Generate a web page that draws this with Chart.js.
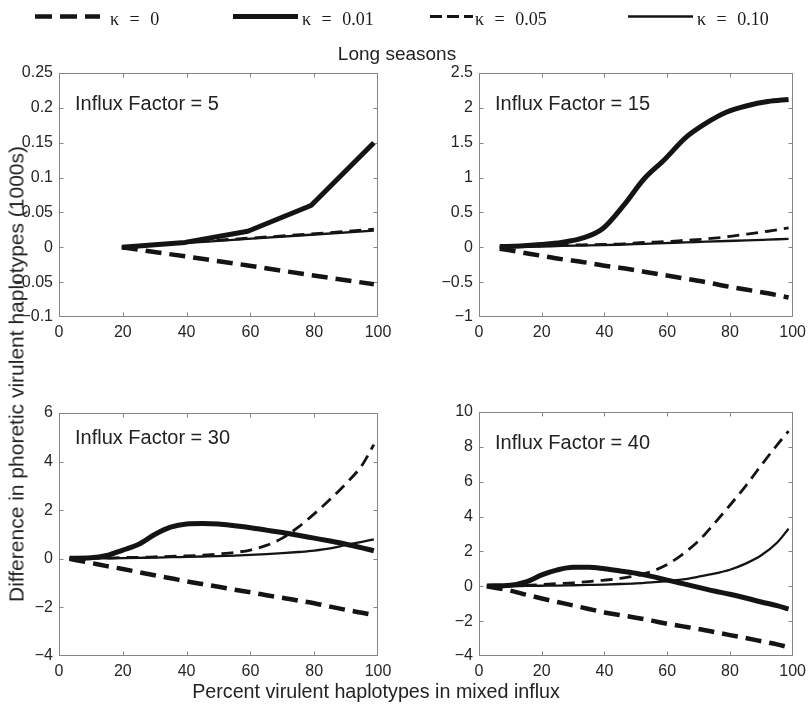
<!DOCTYPE html>
<html>
<head>
<meta charset="utf-8">
<title>Long seasons</title>
<script src="https://cdn.jsdelivr.net/npm/chart.js@4.4.1/dist/chart.umd.min.js"></script>
<style>
  html, body { margin: 0; padding: 0; background: #fff; }
  #wrap { position: relative; width: 812px; height: 707px; overflow: hidden;
          font-family: "Liberation Sans", Arial, Helvetica, sans-serif; color: #222; }
  #wrap canvas { position: absolute; left: 0; top: 0; }
  #keys { position: absolute; left: 0; top: 0; }
  .leg { position: absolute; top: 10px; white-space: nowrap; color: #1a1a1a;
         font: 18px/18px "Liberation Serif", "Times New Roman", serif; word-spacing: 6px; }
  #title { position: absolute; left: 397px; top: 44px; transform: translateX(-50%);
           white-space: nowrap; font-size: 19px; line-height: 19px; }
  #xlab { position: absolute; left: 376px; top: 681px; transform: translateX(-50%);
          white-space: nowrap; font-size: 19.7px; line-height: 20px; }
  #ylab { position: absolute; left: 16px; top: 374px; transform: translate(-50%, -50%) rotate(-90deg);
          white-space: nowrap; font-size: 21px; line-height: 21px; }
</style>
</head>
<body>
<div id="wrap">
  <canvas id="p1" width="812" height="707"></canvas>
  <canvas id="p2" width="812" height="707"></canvas>
  <canvas id="p3" width="812" height="707"></canvas>
  <canvas id="p4" width="812" height="707"></canvas>
  <svg id="keys" width="812" height="40"></svg>
  <div id="title">Long seasons</div>
  <div id="ylab">Difference in phoretic virulent haplotypes (1000s)</div>
  <div id="xlab">Percent virulent haplotypes in mixed influx</div>
</div>
<script>
// ---- series names and axis ticks ----
const kappaLabels = ['κ = 0', 'κ = 0.01', 'κ = 0.05', 'κ = 0.10'];
const panelLabels = ['Influx Factor = 5', 'Influx Factor = 15', 'Influx Factor = 30', 'Influx Factor = 40'];
const xTicks = [0, 20, 40, 60, 80, 100];
const yTicks5 = [-0.1, -0.05, 0, 0.05, 0.1, 0.15, 0.2, 0.25];
const yTicks15 = [-1, -0.5, 0, 0.5, 1, 1.5, 2, 2.5];
const yTicks30 = [-4, -2, 0, 2, 4, 6];
const yTicks40 = [-4, -2, 0, 2, 4, 6, 8, 10];

// ---- Influx Factor = 5 ----
const x5 = [19.7, 39.5, 59.2, 79, 98.7];
const if5_k0   = [0, -0.013, -0.026, -0.04, -0.053];
const if5_k001 = [0, 0.007, 0.023, 0.06, 0.15];
const if5_k005 = [0, 0.007, 0.013, 0.019, 0.026];
const if5_k010 = [0, 0.006, 0.012, 0.018, 0.024];

// ---- Influx Factor = 15 ----
const x15 = [6.6, 13.2, 19.7, 26.3, 32.9, 39.5, 46.1, 52.6, 59.2, 65.8, 72.4, 79, 85.5, 92.1, 98.7];
const if15_k0   = [-0.02, -0.07, -0.12, -0.17, -0.21, -0.26, -0.30, -0.35, -0.40, -0.45, -0.50, -0.56, -0.61, -0.66, -0.72];
const if15_k001 = [0.01, 0.02, 0.04, 0.07, 0.13, 0.27, 0.60, 0.98, 1.26, 1.57, 1.78, 1.94, 2.03, 2.09, 2.12];
const if15_k005 = [0, 0.01, 0.02, 0.03, 0.035, 0.04, 0.05, 0.07, 0.08, 0.10, 0.12, 0.15, 0.19, 0.23, 0.28];
const if15_k010 = [0, 0.005, 0.01, 0.02, 0.025, 0.03, 0.04, 0.05, 0.06, 0.07, 0.08, 0.09, 0.10, 0.11, 0.12];

// ---- Influx Factor = 30 ----
const x30 = [3.3, 10, 15, 20, 25, 30, 35, 40, 45, 50, 55, 60, 65, 70, 75, 80, 85, 90, 95, 98.7];
const if30_k0   = [0, -0.17, -0.3, -0.42, -0.55, -0.68, -0.8, -0.93, -1.04, -1.15, -1.27, -1.38, -1.5, -1.6, -1.72, -1.83, -1.97, -2.1, -2.22, -2.32];
const if30_k001 = [0.02, 0.04, 0.14, 0.36, 0.6, 1.0, 1.3, 1.43, 1.45, 1.43, 1.36, 1.28, 1.18, 1.08, 0.97, 0.85, 0.73, 0.6, 0.45, 0.33];
const if30_k005 = [0, 0.02, 0.03, 0.05, 0.06, 0.08, 0.1, 0.12, 0.15, 0.2, 0.26, 0.36, 0.55, 0.85, 1.3, 1.85, 2.45, 3.1, 3.85, 4.7];
const if30_k010 = [0, 0.01, 0.02, 0.03, 0.04, 0.05, 0.065, 0.08, 0.095, 0.11, 0.13, 0.16, 0.19, 0.23, 0.28, 0.34, 0.43, 0.57, 0.7, 0.8];

// ---- Influx Factor = 40 ----
const x40 = [2.5, 10, 15, 20, 25, 30, 35, 40, 45, 50, 55, 60, 65, 70, 75, 80, 85, 90, 95, 98.7];
const if40_k0   = [0, -0.25, -0.48, -0.7, -0.9, -1.1, -1.3, -1.5, -1.65, -1.8, -1.97, -2.15, -2.3, -2.45, -2.62, -2.8, -2.97, -3.15, -3.33, -3.5];
const if40_k001 = [0.02, 0.06, 0.25, 0.65, 0.94, 1.09, 1.09, 1.0, 0.88, 0.75, 0.57, 0.35, 0.15, -0.06, -0.27, -0.46, -0.67, -0.9, -1.11, -1.3];
const if40_k005 = [0, 0.02, 0.05, 0.1, 0.15, 0.2, 0.27, 0.35, 0.45, 0.6, 0.85, 1.25, 1.85, 2.6, 3.6, 4.65, 5.75, 6.95, 8.1, 8.9];
const if40_k010 = [0, 0.01, 0.02, 0.03, 0.04, 0.06, 0.08, 0.1, 0.13, 0.17, 0.23, 0.3, 0.4, 0.55, 0.72, 0.95, 1.3, 1.78, 2.5, 3.3];

// ---- drawing ----
Chart.defaults.font.family = '"Liberation Sans", Arial, Helvetica, sans-serif';
Chart.defaults.font.size = 16;
Chart.defaults.color = '#262626';

const INK = '#141414';
const FRAME = '#858585';
const lineStyles = [
  { borderWidth: 4.5, borderDash: [16, 8] },   // κ = 0
  { borderWidth: 5,   borderDash: [] },        // κ = 0.01
  { borderWidth: 2.8, borderDash: [12, 7] },   // κ = 0.05
  { borderWidth: 2.3, borderDash: [] }         // κ = 0.10
];

const fmt = v => String(v).replace('-', '\u2212');

// boxed axes with inward ticks on all four sides, plus the panel caption
const panelFrame = {
  id: 'panelFrame',
  beforeDatasetsDraw(chart) {
    const { ctx, chartArea: a, scales } = chart;
    const L = Math.round(a.left) + 0.5, R = Math.round(a.right) - 0.5;
    const T = Math.round(a.top) + 0.5, B = Math.round(a.bottom) - 0.5;
    ctx.save();
    ctx.strokeStyle = FRAME;
    ctx.lineWidth = 1;
    ctx.strokeRect(L, T, R - L, B - T);
    ctx.beginPath();
    scales.x.ticks.forEach(t => {
      const p = Math.round(scales.x.getPixelForValue(t.value)) + 0.5;
      if (p <= L + 1 || p >= R - 1) return;
      ctx.moveTo(p, B); ctx.lineTo(p, B - 4);
      ctx.moveTo(p, T); ctx.lineTo(p, T + 4);
    });
    scales.y.ticks.forEach(t => {
      const p = Math.round(scales.y.getPixelForValue(t.value)) + 0.5;
      if (p <= T + 1 || p >= B - 1) return;
      ctx.moveTo(L, p); ctx.lineTo(L + 4, p);
      ctx.moveTo(R, p); ctx.lineTo(R - 4, p);
    });
    ctx.stroke();
    ctx.restore();
  },
  afterDraw(chart, args, opts) {
    const { ctx, chartArea: a } = chart;
    ctx.save();
    ctx.font = '20px "Liberation Sans", Arial, sans-serif';
    ctx.fillStyle = '#222';
    ctx.textBaseline = 'alphabetic';
    ctx.textAlign = 'left';
    ctx.fillText(opts.label, a.left + 16, a.top + opts.labelDy);
    ctx.restore();
  }
};

function panel(id, area, xs, series, yTicks, label, labelDy, smooth) {
  const W = 812, H = 707, yAxisW = 50, xAxisH = 30;
  const datasets = series.map((vals, i) => ({
    label: kappaLabels[i],
    data: xs.map((x, j) => ({ x: x, y: vals[j] })),
    borderColor: INK,
    backgroundColor: INK,
    borderWidth: lineStyles[i].borderWidth,
    borderDash: lineStyles[i].borderDash,
    borderJoinStyle: 'round',
    pointRadius: 0,
    fill: false,
    tension: smooth ? 0.4 : 0,
    cubicInterpolationMode: smooth ? 'monotone' : 'default'
  }));
  return new Chart(document.getElementById(id), {
    type: 'line',
    data: { datasets },
    options: {
      responsive: false,
      animation: false,
      devicePixelRatio: 1,
      events: [],
      layout: { padding: { left: area.left - yAxisW, right: W - area.right, top: area.top, bottom: H - area.bottom - xAxisH } },
      plugins: { legend: { display: false }, tooltip: { enabled: false }, panelFrame: { label, labelDy } },
      scales: {
        x: {
          type: 'linear', min: 0, max: 100,
          afterBuildTicks: s => { s.ticks = xTicks.map(v => ({ value: v })); },
          afterFit: s => { s.height = xAxisH; },
          grid: { display: false, drawTicks: false },
          border: { display: false },
          ticks: { padding: 6, maxRotation: 0, autoSkip: false, callback: v => fmt(v) }
        },
        y: {
          type: 'linear', min: yTicks[0], max: yTicks[yTicks.length - 1],
          afterBuildTicks: s => { s.ticks = yTicks.map(v => ({ value: v })); },
          afterFit: s => { s.width = yAxisW; },
          grid: { display: false, drawTicks: false },
          border: { display: false },
          ticks: { padding: 6, autoSkip: false, callback: v => fmt(v) }
        }
      }
    },
    plugins: [panelFrame]
  });
}

panel('p1', { left: 59, top: 73, right: 378, bottom: 317 }, x5,
      [if5_k0, if5_k001, if5_k005, if5_k010], yTicks5, panelLabels[0], 37, false);
panel('p2', { left: 479, top: 73, right: 799, bottom: 317 }, x15,
      [if15_k0, if15_k001, if15_k005, if15_k010], yTicks15, panelLabels[1], 37, true);
panel('p3', { left: 59, top: 413, right: 378, bottom: 656 }, x30,
      [if30_k0, if30_k001, if30_k005, if30_k010], yTicks30, panelLabels[2], 31, true);
panel('p4', { left: 479, top: 412, right: 798, bottom: 656 }, x40,
      [if40_k0, if40_k001, if40_k005, if40_k010], yTicks40, panelLabels[3], 37, true);

// shared key across the top
const keyPlaces = [
  { from: 35,  to: 100, text: 110, dash: '17 8' },
  { from: 233, to: 298, text: 302, dash: '' },
  { from: 430, to: 473, text: 475, dash: '12 5' },
  { from: 628, to: 693, text: 697, dash: '' }
];
const svg = document.getElementById('keys');
const NS = 'http://www.w3.org/2000/svg';
keyPlaces.forEach((k, i) => {
  const ln = document.createElementNS(NS, 'line');
  ln.setAttribute('x1', k.from); ln.setAttribute('x2', k.to);
  ln.setAttribute('y1', 16.5); ln.setAttribute('y2', 16.5);
  ln.setAttribute('stroke', INK);
  ln.setAttribute('stroke-width', i === 2 ? 3 : lineStyles[i].borderWidth);
  if (k.dash) ln.setAttribute('stroke-dasharray', k.dash);
  svg.appendChild(ln);
  const d = document.createElement('div');
  d.className = 'leg';
  d.style.left = k.text + 'px';
  d.textContent = kappaLabels[i];
  document.getElementById('wrap').appendChild(d);
});
</script>
</body>
</html>
